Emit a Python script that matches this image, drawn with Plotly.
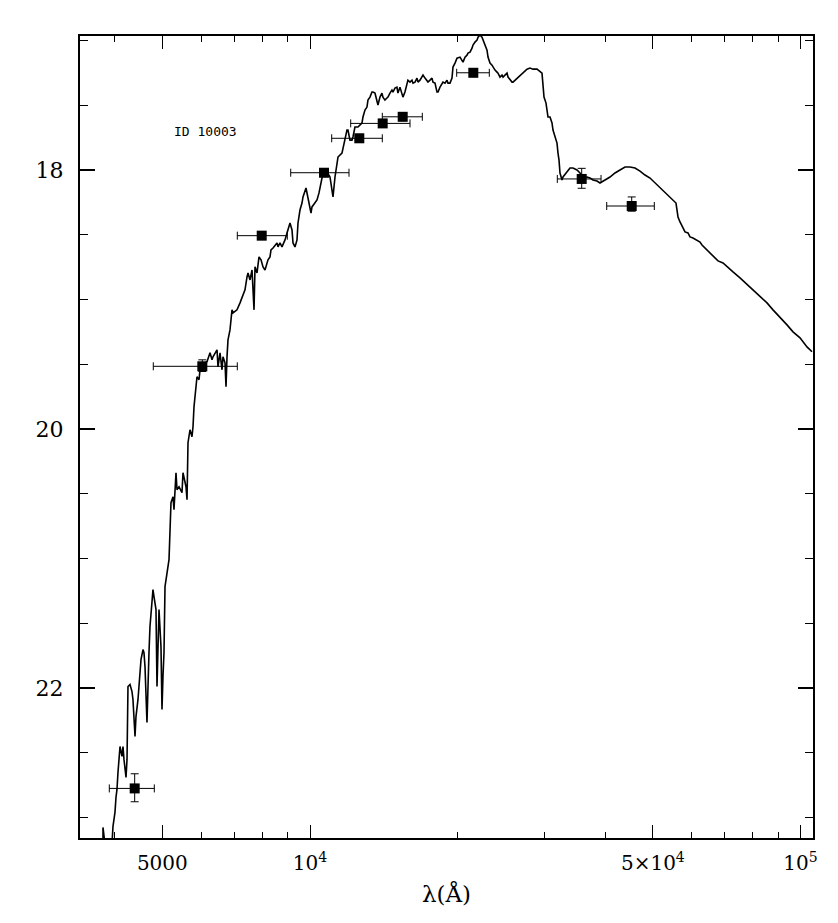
import plotly.graph_objects as go

# ---- model spectrum (wavelength in Angstrom, AB magnitude) ----
spec_lam = [3784, 3784, 3820, 3947, 3966, 4003, 4022, 4041, 4060, 4079, 4099, 4137, 4157, 4176, 4216, 4236,
            4255, 4296, 4336, 4356, 4398, 4418, 4460, 4523, 4566, 4587, 4609, 4652, 4674, 4696, 4718, 4763,
            4785, 4808, 4853, 4876, 4899, 4922, 4968, 4992, 5015, 5039, 5063, 5087, 5110, 5159, 5207, 5257,
            5281, 5331, 5356, 5407, 5483, 5509, 5587, 5614, 5640, 5693, 5747, 5774, 5801, 5856, 5883, 5939,
            5967, 6023, 6052, 6109, 6166, 6254, 6313, 6342, 6402, 6463, 6493, 6554, 6616, 6647, 6710, 6742,
            6773, 6805, 6869, 6934, 6967, 7099, 7200, 7267, 7370, 7440, 7475, 7546, 7617, 7689, 7725, 7798,
            7871, 7946, 8021, 8096, 8173, 8211, 8288, 8327, 8406, 8485, 8565, 8605, 8686, 8768, 8810, 8893,
            8977, 9019, 9104, 9190, 9233, 9320, 9408, 9452, 9541, 9631, 9677, 9814, 9860, 9953, 10047, 10094,
            10238, 10334, 10432, 10481, 10579, 10629, 10729, 10830, 10984, 11140, 11245, 11351, 11404, 11620,
            11784, 11895, 11951, 12064, 12178, 12235, 12350, 12525, 12763, 12823, 12944, 13066, 13127, 13251,
            13376, 13439, 13566, 13693, 13758, 13888, 14018, 14084, 14217, 14351, 14419, 14555, 14692, 14761,
            14900, 15040, 15111, 15254, 15398, 15470, 15616, 15763, 15837, 15990, 16141, 16217, 16370, 16525,
            16603, 16759, 16917, 16997, 17157, 17319, 17400, 17565, 17730, 17814, 17982, 18151, 18237, 18409,
            18582, 18670, 18846, 19024, 19113, 19294, 19475, 19567, 19752, 19938, 20222, 20413, 20509, 20702,
            20897, 20996, 21194, 21394, 21494, 21697, 21902, 22005, 22213, 22422, 22527, 22740, 22955, 23062,
            23280, 23500, 23610, 23833, 24058, 24171, 24399, 24629, 24745, 25214, 25333, 25572, 25813, 25934,
            26179, 26426, 26801, 27180, 27696, 28088, 28487, 29027, 29438, 29716, 29856, 29997, 30280, 30565,
            30854, 31144, 31291, 31586, 31884, 32034, 32185, 32336, 32642, 32795, 33417, 33890, 34371, 35023,
            35519, 36023, 36706, 37227, 37755, 38470, 39016, 39384, 39942, 40891, 41862, 42857, 43875, 44917,
            45984, 47076, 48194, 49338, 50509, 51709, 52937, 54194, 54962, 55742, 56005, 56268, 56799, 57604,
            58148, 58972, 59528, 60373, 61516, 62389, 62978, 63871, 65388, 66941, 67890, 69503, 70820, 72843,
            75277, 78896, 82687, 85450, 87891, 90828, 93862, 96545, 99769, 103100, 105550]
spec_mag = [23.208, 23.077, 23.208, 23.208, 23.069, 22.961, 22.846, 22.784, 22.653, 22.552, 22.452, 22.529,
            22.452, 22.552, 22.691, 22.552, 21.989, 21.974, 22.028, 22.089, 22.375, 22.221, 22.089, 21.781,
            21.704, 21.727, 21.835, 22.267, 21.912, 21.727, 21.526, 21.372, 21.241, 21.295, 21.395, 21.989,
            21.526, 21.395, 21.681, 22.167, 21.912, 21.727, 21.218, 21.164, 21.110, 21.009, 20.569, 20.523,
            20.623, 20.338, 20.469, 20.446, 20.492, 20.338, 20.446, 20.546, 20.106, 20.006, 20.060, 19.983,
            19.829, 19.698, 19.597, 19.620, 19.543, 19.520, 19.543, 19.489, 19.481, 19.412, 19.466, 19.443,
            19.412, 19.389, 19.520, 19.412, 19.543, 19.443, 19.489, 19.674, 19.443, 19.312, 19.235, 19.080,
            19.103, 19.080, 19.026, 18.980, 18.926, 18.826, 18.795, 18.849, 18.772, 19.080, 18.748, 18.795,
            18.671, 18.694, 18.748, 18.772, 18.718, 18.694, 18.671, 18.617, 18.602, 18.579, 18.563, 18.594,
            18.563, 18.594, 18.579, 18.540, 18.486, 18.463, 18.409, 18.463, 18.563, 18.594, 18.540, 18.409,
            18.309, 18.255, 18.208, 18.139, 18.177, 18.255, 18.332, 18.285, 18.255, 18.231, 18.177, 18.131,
            18.054, 18.023, 18.054, 18.015, 18.054, 18.208, 18.054, 17.946, 17.900, 17.869, 17.769, 17.691,
            17.691, 17.769, 17.769, 17.745, 17.668, 17.668, 17.637, 17.591, 17.537, 17.514, 17.460, 17.437,
            17.398, 17.398, 17.406, 17.460, 17.498, 17.437, 17.406, 17.437, 17.460, 17.444, 17.437, 17.406,
            17.383, 17.398, 17.367, 17.360, 17.406, 17.360, 17.421, 17.437, 17.398, 17.329, 17.306, 17.321,
            17.306, 17.329, 17.321, 17.290, 17.321, 17.306, 17.282, 17.267, 17.290, 17.306, 17.321, 17.306,
            17.290, 17.321, 17.329, 17.398, 17.398, 17.360, 17.329, 17.321, 17.329, 17.306, 17.329, 17.329,
            17.290, 17.205, 17.174, 17.136, 17.128, 17.151, 17.167, 17.128, 17.113, 17.097, 17.090, 17.059,
            17.035, 17.012, 16.997, 16.974, 16.958, 16.974, 16.997, 17.035, 17.074, 17.128, 17.174, 17.190,
            17.205, 17.228, 17.244, 17.252, 17.282, 17.267, 17.282, 17.252, 17.282, 17.306, 17.321, 17.321,
            17.306, 17.290, 17.267, 17.244, 17.221, 17.213, 17.221, 17.221, 17.244, 17.252, 17.344, 17.437,
            17.483, 17.591, 17.591, 17.637, 17.691, 17.745, 17.792, 17.869, 17.923, 18.023, 18.077, 18.054,
            18.015, 17.985, 17.985, 18.000, 18.023, 18.054, 18.054, 18.062, 18.077, 18.085, 18.100, 18.093,
            18.077, 18.054, 18.023, 18.000, 17.977, 17.977, 17.985, 18.008, 18.039, 18.062, 18.100, 18.139,
            18.177, 18.208, 18.231, 18.255, 18.309, 18.363, 18.401, 18.448, 18.478, 18.486, 18.517, 18.525,
            18.540, 18.556, 18.579, 18.602, 18.640, 18.679, 18.702, 18.718, 18.748, 18.787, 18.833, 18.903,
            18.980, 19.026, 19.080, 19.134, 19.196, 19.250, 19.296, 19.366, 19.404]

# ---- observed photometry ----
phot_lam = [4391, 6032, 7972, 10679, 12604, 14067, 15452, 21525, 35804, 45277]
phot_mag = [22.776, 19.516, 18.507, 18.021, 17.755, 17.640, 17.589, 17.249, 18.069, 18.278]
phot_lam_lo = [493, 1240, 863, 1545, 1532, 1962, 1411, 1615, 3875, 5014]   # to blue edge
phot_lam_hi = [424, 1077, 1017, 1330, 1437, 1924, 1489, 1679, 3401, 5066]  # to red edge
phot_mag_lo = [0.113, 0.050, 0.03, 0.03, 0.03, 0.03, 0.03, 0.03, 0.082, 0.070]  # brighter side
phot_mag_hi = [0.103, 0.040, 0.03, 0.03, 0.03, 0.03, 0.03, 0.03, 0.072, 0.040]  # fainter side

x_major = [5000, 10000, 50000, 100000]
x_major_text = ["5000", "10<sup>4</sup>", "5×10<sup>4</sup>", "10<sup>5</sup>"]
x_minor = [4000, 6000, 7000, 8000, 9000, 20000, 30000, 40000, 60000, 70000, 80000, 90000]
label_text = "ID 10003"

fig = go.Figure()
fig.add_trace(go.Scatter(x=spec_lam, y=spec_mag, mode="lines",
                         line=dict(color="black", width=1.6), showlegend=False, hoverinfo="skip"))
fig.add_trace(go.Scatter(
    x=phot_lam, y=phot_mag, mode="markers",
    marker=dict(symbol="square", size=10, color="black"),
    error_x=dict(type="data", symmetric=False, array=phot_lam_hi, arrayminus=phot_lam_lo,
                 color="black", thickness=1, width=4),
    error_y=dict(type="data", symmetric=False, array=phot_mag_hi, arrayminus=phot_mag_lo,
                 color="black", thickness=1, width=4),
    showlegend=False))

fig.add_annotation(text=label_text, xref="paper", yref="paper", x=0.1255, y=0.8807,
                   xanchor="left", yanchor="middle", showarrow=False,
                   font=dict(family="DejaVu Sans Mono", size=13, color="black"))

fig.update_layout(
    width=830, height=915,
    margin=dict(l=72, r=25, t=28, b=85),
    paper_bgcolor="white", plot_bgcolor="white",
    font=dict(family="DejaVu Serif", color="black"),
    xaxis=dict(type="log", range=[3.53109, 5.02548], showgrid=False, zeroline=False,
               showline=True, linecolor="black", linewidth=2, mirror="ticks",
               ticks="inside", ticklen=13, tickwidth=1, tickcolor="black",
               tickmode="array", tickvals=x_major, ticktext=x_major_text,
               tickfont=dict(family="DejaVu Serif", size=20), ticklabelstandoff=6,
               minor=dict(tickmode="array", tickvals=x_minor, ticks="inside", ticklen=6,
                          tickwidth=1, tickcolor="black", showgrid=False),
               title=dict(text="λ(Å)", font=dict(family="DejaVu Serif", size=23), standoff=12)),
    yaxis=dict(range=[23.159, 16.965], showgrid=False, zeroline=False,
               showline=True, linecolor="black", linewidth=2, mirror="ticks",
               ticks="inside", ticklen=15, tickwidth=2, tickcolor="black",
               tick0=18, dtick=2, tickfont=dict(family="DejaVu Serif", size=22),
               ticklabelstandoff=10,
               minor=dict(dtick=0.5, tick0=18, ticks="inside", ticklen=8, tickwidth=1,
                          tickcolor="black", showgrid=False)),
)

fig.write_html("out.html")
